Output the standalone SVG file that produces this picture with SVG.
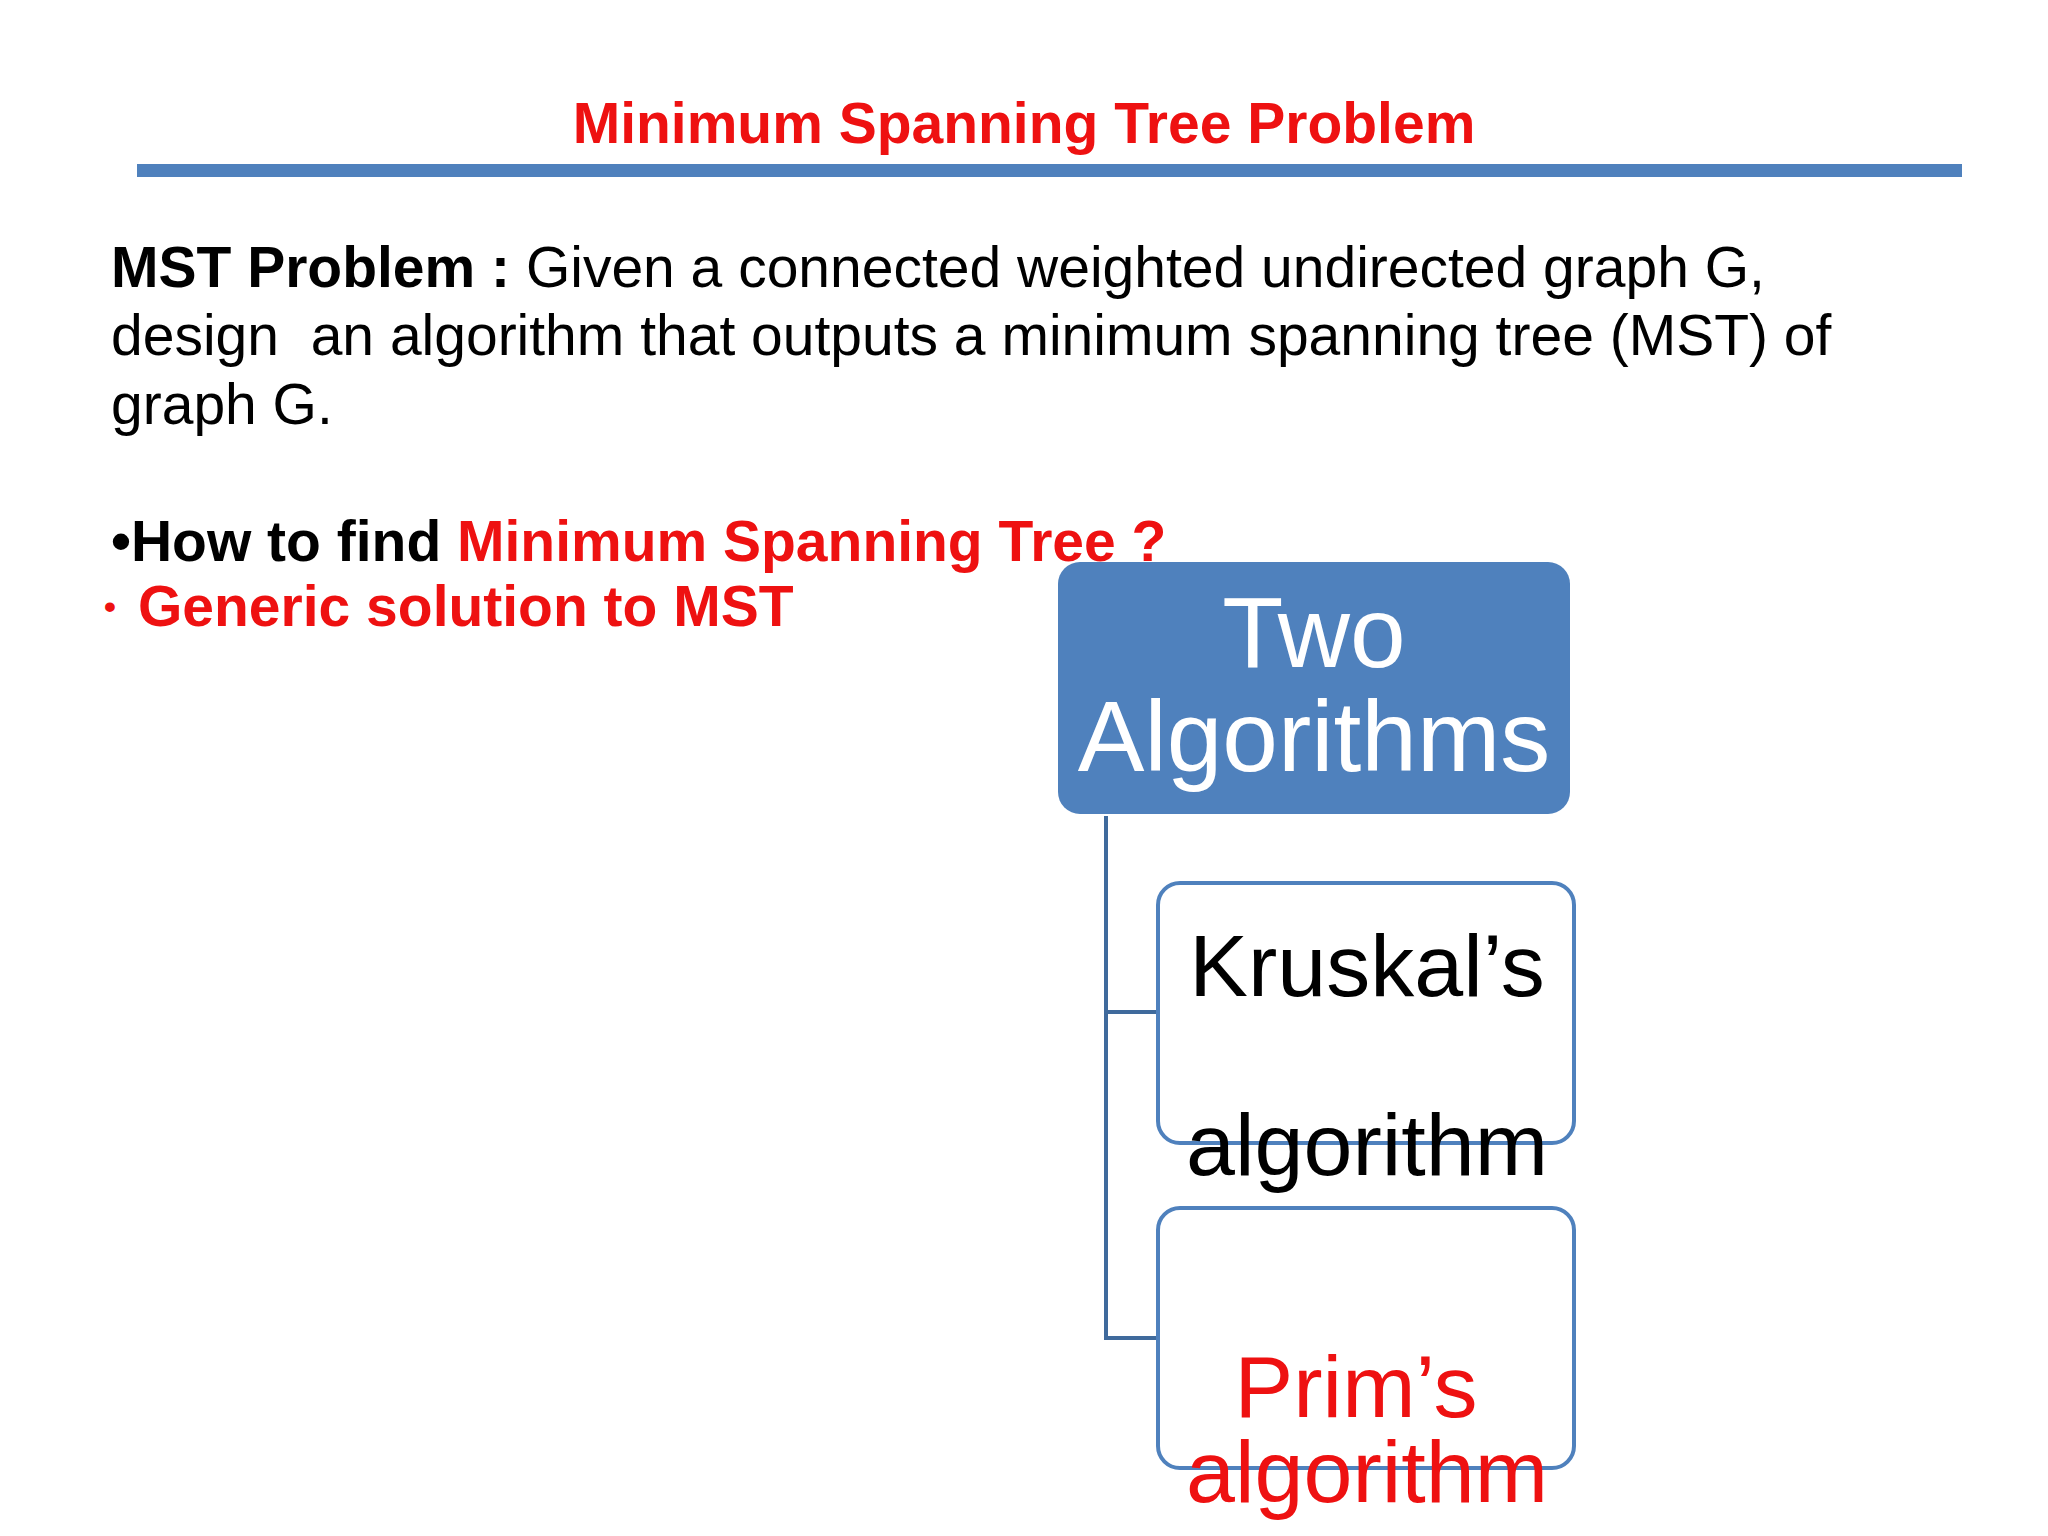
<svg xmlns="http://www.w3.org/2000/svg" width="2048" height="1536" viewBox="0 0 2048 1536">
<style>
.t{font-family:"Liberation Sans",Arial,sans-serif}
.b{font-weight:bold}
.red{fill:#EE1111}
.box{fill:#fff;stroke:#4F81BD;stroke-width:4}
</style>
<rect width="2048" height="1536" fill="#fff"/>
<text class="t b red" x="1024" y="143" font-size="57" text-anchor="middle">Minimum Spanning Tree Problem</text>
<rect x="137" y="164" width="1825" height="13" fill="#4F81BD"/>
<text class="t" font-size="57" x="111" y="287"><tspan class="b">MST Problem : </tspan>Given a connected weighted undirected graph G,</text>
<text class="t" font-size="57" x="111" y="355" xml:space="preserve">design  an algorithm that outputs a minimum spanning tree (MST) of</text>
<text class="t" font-size="57" x="111" y="424">graph G.</text>
<text class="t b" font-size="57" x="111" y="561">•How to find <tspan class="red">Minimum Spanning Tree ?</tspan></text>
<text class="t b red" font-size="34" x="104" y="618">•</text>
<text class="t b red" font-size="57" x="138" y="626">Generic solution to MST</text>
<g id="connectors" stroke="#3F6A9C" stroke-width="4" fill="none">
<path d="M1106 816V1338H1158M1106 1012H1158"/>
</g>
<g id="root">
<rect x="1058" y="562" width="512" height="252" rx="22" fill="#4F81BD"/>
<text class="t" fill="#fff" font-size="100" text-anchor="middle" x="1314" y="667">Two</text>
<text class="t" fill="#fff" font-size="100" text-anchor="middle" x="1314" y="771">Algorithms</text>
</g>
<g id="kruskal">
<rect class="box" x="1158" y="883" width="416" height="260" rx="22"/>
<text class="t" font-size="88" text-anchor="middle" x="1367" y="996">Kruskal’s</text>
<text class="t" font-size="88" text-anchor="middle" x="1367" y="1175">algorithm</text>
</g>
<g id="prim">
<rect class="box" x="1158" y="1208" width="416" height="260" rx="22"/>
<text class="t red" font-size="88" text-anchor="middle" x="1356" y="1417">Prim’s</text>
<text class="t red" font-size="88" text-anchor="middle" x="1367" y="1502">algorithm</text>
</g>
</svg>
